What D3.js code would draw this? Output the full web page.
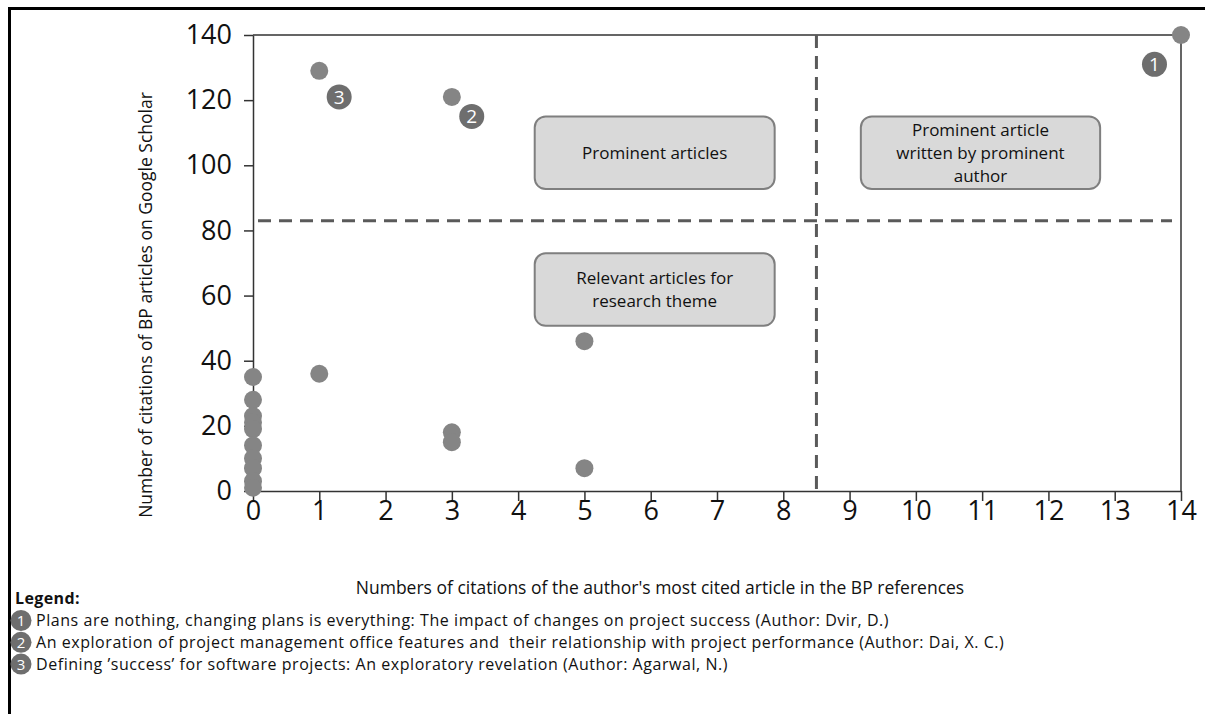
<!DOCTYPE html>
<html>
<head>
<meta charset="utf-8">
<script src="https://cdn.jsdelivr.net/npm/d3@7"></script>
<style>
    body { margin: 0; background: #fff; }
    svg { display: block; font-family: "Open Sans", sans-serif; }
</style>
</head>
<body>
<div id="chart"></div>
<script>
// Articles: citations of author's most cited article (x) vs Google Scholar citations (y)
const articleX = [0, 0, 0, 0, 0, 0, 0, 0, 0, 0, 1, 1, 3, 3, 3, 5, 5, 14];
const articleY = [35, 28, 23, 21, 19, 14, 10, 7, 3, 1, 129, 36, 121, 18, 15, 46, 7, 140];

// numbered markers next to the three highlighted articles
const markerIds = ["1", "2", "3"];
const markerX = [13.6, 3.3, 1.3];
const markerY = [131, 115, 121];

const xTicks = [0, 1, 2, 3, 4, 5, 6, 7, 8, 9, 10, 11, 12, 13, 14];
const yTicks = [0, 20, 40, 60, 80, 100, 120, 140];

// quadrant split lines
const xSplit = 8.5;
const ySplit = 83;

// quadrant boxes (in data units)
const boxLines = [
    ["Prominent articles"],
    ["Prominent article", "written by prominent", "author"],
    ["Relevant articles for", "research theme"]
];
const boxX0 = [4.25, 9.17, 4.25];
const boxX1 = [7.87, 12.78, 7.87];
const boxTop = [115, 115, 73];
const boxBottom = [92.7, 92.7, 50.7];

const legendTexts = [
    "Plans are nothing, changing plans is everything: The impact of changes on project success (Author: Dvir, D.)",
    "An exploration of project management office features and  their relationship with project performance (Author: Dai, X. C.)",
    "Defining \u2019success\u2019 for software projects: An exploratory revelation (Author: Agarwal, N.)"
];

function renderChart() {
    const width = 1205;
    const height = 714;
    const fs = "17px";

    const svg = d3.select("#chart").append("svg")
        .attr("width", width)
        .attr("height", height);

    // outer frame (only left and top visible in the picture)
    svg.append("rect")
        .attr("x", 9.5).attr("y", 8.5)
        .attr("width", 1220).attr("height", 720)
        .attr("fill", "none")
        .attr("stroke", "#000")
        .attr("stroke-width", 3);

    const x = d3.scaleLinear().domain([0, 14]).range([253, 1181]);
    const y = d3.scaleLinear().domain([0, 140]).range([491, 35]);

    // top and right edges of plot area
    svg.append("path")
        .attr("d", `M${x(0)},${y(140)}H${x(14)}V${y(0)}`)
        .attr("fill", "none")
        .attr("stroke", "#333")
        .attr("stroke-width", 1.5);

    const xAxis = svg.append("g")
        .attr("transform", `translate(0,${y(0)})`)
        .call(d3.axisBottom(x).tickValues(xTicks).tickSize(10).tickPadding(0).tickSizeOuter(0));
    const yAxis = svg.append("g")
        .attr("transform", `translate(${x(0)},0)`)
        .call(d3.axisLeft(y).tickValues(yTicks).tickSize(9).tickPadding(12).tickSizeOuter(0));

    [xAxis, yAxis].forEach(a => {
        a.selectAll("path, line").attr("stroke", "#333").attr("stroke-width", 1.5);
        a.selectAll("text")
            .attr("fill", "#111")
            .style("font-size", "27px")
            .style("font-family", "'Open Sans', sans-serif");
    });

    // dashed quadrant lines
    svg.append("line")
        .attr("x1", x(0) + 5).attr("x2", x(14) - 9)
        .attr("y1", y(ySplit)).attr("y2", y(ySplit))
        .attr("stroke", "#5a5a5a").attr("stroke-width", 3)
        .attr("stroke-dasharray", "13 8");
    svg.append("line")
        .attr("x1", x(xSplit)).attr("x2", x(xSplit))
        .attr("y1", y(140)).attr("y2", y(0))
        .attr("stroke", "#5a5a5a").attr("stroke-width", 3)
        .attr("stroke-dasharray", "13 8");

    // quadrant boxes
    const boxes = svg.selectAll(".box")
        .data(boxLines)
        .enter().append("g")
        .attr("class", "box");

    boxes.append("rect")
        .attr("x", (d, i) => x(boxX0[i]))
        .attr("y", (d, i) => y(boxTop[i]))
        .attr("width", (d, i) => x(boxX1[i]) - x(boxX0[i]))
        .attr("height", (d, i) => y(boxBottom[i]) - y(boxTop[i]))
        .attr("rx", 11)
        .attr("fill", "#d9d9d9")
        .attr("stroke", "#7f7f7f")
        .attr("stroke-width", 2);

    boxes.each(function (lines, i) {
        const cx = (x(boxX0[i]) + x(boxX1[i])) / 2;
        const cy = (y(boxTop[i]) + y(boxBottom[i])) / 2;
        const lh = 23;
        d3.select(this).selectAll("text")
            .data(lines)
            .enter().append("text")
            .attr("x", cx)
            .attr("y", (t, j) => cy + (j - (lines.length - 1) / 2) * lh)
            .attr("dy", "0.35em")
            .attr("text-anchor", "middle")
            .style("font-size", fs)
            .attr("fill", "#111")
            .text(t => t);
    });

    // article points
    svg.selectAll(".pt")
        .data(articleX)
        .enter().append("circle")
        .attr("class", "pt")
        .attr("cx", d => x(d))
        .attr("cy", (d, i) => y(articleY[i]))
        .attr("r", 9)
        .attr("fill", "#858585");

    // numbered markers
    const markers = svg.selectAll(".marker")
        .data(markerIds)
        .enter().append("g")
        .attr("class", "marker")
        .attr("transform", (d, i) => `translate(${x(markerX[i])},${y(markerY[i])})`);
    markers.append("circle")
        .attr("r", 12.5)
        .attr("fill", "#6e6e6e");
    markers.append("text")
        .attr("text-anchor", "middle")
        .attr("dy", "0.36em")
        .attr("fill", "#fff")
        .style("font-size", "19px")
        .text(d => d);

    // axis titles
    svg.append("text")
        .attr("x", 660)
        .attr("y", 588)
        .attr("dy", "0.35em")
        .attr("text-anchor", "middle")
        .style("font-size", "17.5px")
        .attr("fill", "#111")
        .text("Numbers of citations of the author's most cited article in the BP references");

    svg.append("text")
        .attr("transform", "translate(146,305) rotate(-90)")
        .attr("dy", "0.35em")
        .attr("text-anchor", "middle")
        .style("font-size", "17.5px")
        .attr("fill", "#111")
        .text("Number of citations of BP articles on Google Scholar");

    // legend
    svg.append("text")
        .attr("x", 15)
        .attr("y", 598)
        .attr("dy", "0.35em")
        .style("font-size", "16px")
        .style("font-weight", "bold")
        .style("letter-spacing", "0.4px")
        .attr("fill", "#111")
        .text("Legend:");

    const legend = svg.selectAll(".legend")
        .data(legendTexts)
        .enter().append("g")
        .attr("class", "legend")
        .attr("transform", (d, i) => `translate(0,${620.5 + i * 21.8})`);
    legend.append("circle")
        .attr("cx", 21)
        .attr("r", 10.5)
        .attr("fill", "#6e6e6e");
    legend.append("text")
        .attr("x", 21)
        .attr("dy", "0.36em")
        .attr("text-anchor", "middle")
        .attr("fill", "#fff")
        .style("font-size", "15px")
        .text((d, i) => markerIds[i]);
    legend.append("text")
        .attr("x", 36)
        .attr("dy", "0.35em")
        .style("font-size", "16px")
        .style("letter-spacing", "0.55px")
        .attr("fill", "#111")
        .style("white-space", "pre")
        .text(d => d);
}

renderChart();
</script>
</body>
</html>
